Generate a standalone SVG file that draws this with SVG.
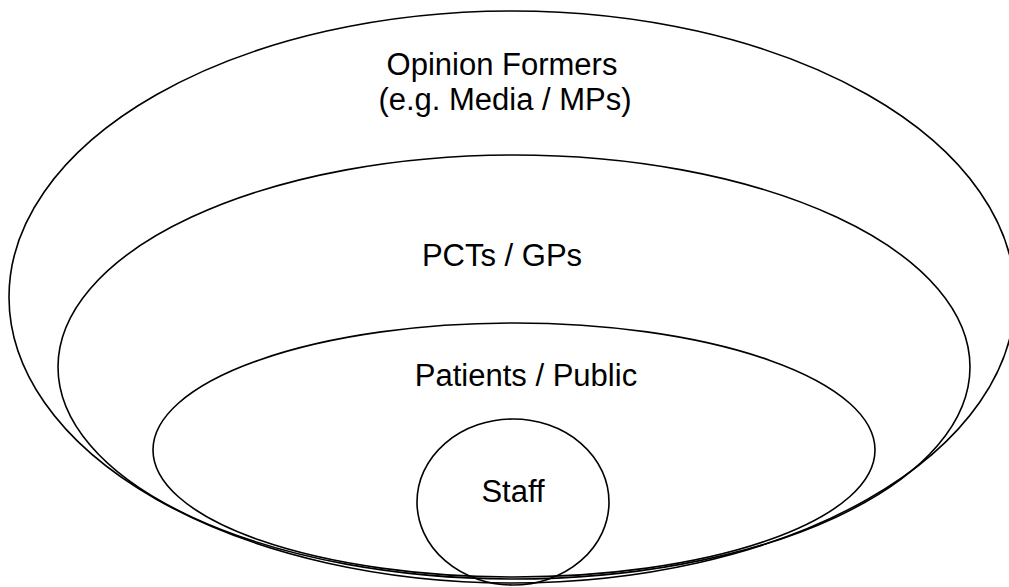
<svg xmlns="http://www.w3.org/2000/svg" width="1009" height="587" viewBox="0 0 1009 587">
  <style>
    .ring { fill: none; stroke: #000; stroke-width: 1.6; }
    .label { font-family: "Liberation Sans", Arial, sans-serif; font-size: 31px; fill: #000; text-anchor: middle; }
  </style>
  <rect width="1009" height="587" fill="#fff"/>
  <g id="opinion-formers">
    <ellipse class="ring" cx="512" cy="297" rx="503" ry="286"/>
    <text class="label" x="502" y="75">Opinion Formers</text>
    <text class="label" x="505" y="110">(e.g. Media / MPs)</text>
  </g>
  <g id="pcts-gps">
    <ellipse class="ring" cx="514" cy="367" rx="456" ry="212"/>
    <text class="label" x="502" y="266">PCTs / GPs</text>
  </g>
  <g id="patients-public">
    <ellipse class="ring" cx="514" cy="450" rx="361" ry="127"/>
    <text class="label" x="526" y="386">Patients / Public</text>
  </g>
  <g id="staff">
    <ellipse class="ring" cx="513" cy="502" rx="96" ry="83"/>
    <text class="label" x="513" y="502">Staff</text>
  </g>
  <g id="connectors"/>
</svg>
